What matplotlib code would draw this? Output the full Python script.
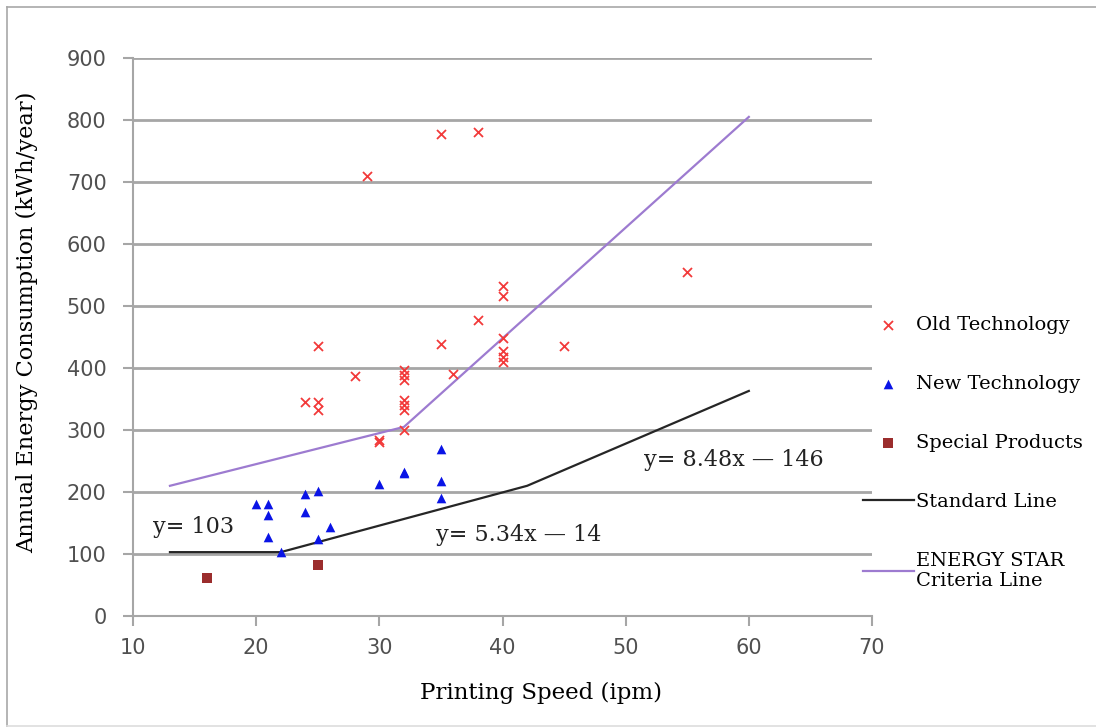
# Printer energy consumption vs printing speed
import matplotlib.pyplot as plt
from matplotlib.lines import Line2D

# DATA
old_x = [24, 25, 25, 25, 28, 29, 30, 30, 32, 32, 32, 32, 32, 32, 32,
         35, 35, 36, 38, 38, 40, 40, 40, 40, 40, 40, 45, 55]
old_y = [345, 435, 345, 333, 387, 709, 284, 280, 397, 389, 380, 348, 340, 332, 300,
         777, 439, 391, 780, 477, 532, 516, 449, 427, 418, 409, 435, 555]

new_x = [20, 21, 21, 21, 22, 24, 24, 25, 25, 26, 30, 32, 32, 35, 35, 35]
new_y = [181, 180, 163, 128, 103, 196, 167, 202, 125, 144, 213, 230, 233, 269, 218, 190]

special_x = [16, 25]
special_y = [62, 83]

standard_x = [13, 22, 42, 60]
standard_y = [103, 103, 210, 363]

star_x = [13, 32, 60]
star_y = [210, 305, 805]

serif = 'DejaVu Serif'

# PLOT
fig = plt.figure(figsize=(10.96, 7.27), dpi=100)
ax = fig.add_axes([133/1096, 1-616/727, 739/1096, 558/727])

ax.plot(star_x, star_y, color='#9d7bd0', lw=1.6, label='ENERGY STAR\nCriteria Line', zorder=3)
ax.plot(standard_x, standard_y, color='#262626', lw=1.6, label='Standard Line', zorder=3)
ax.scatter(old_x, old_y, marker='x', s=42, color='#f23a3a', linewidths=1.3,
           label='Old Technology', zorder=4)
ax.scatter(new_x, new_y, marker='^', s=48, color='#0a14e6', linewidths=0,
           label='New Technology', zorder=4)
ax.scatter(special_x, special_y, marker='s', s=45, color='#9b2d2d', linewidths=0,
           label='Special Products', zorder=4)

# equation labels
ax.text(11.6, 144, 'y= 103', fontsize=16, family=serif, color='#222222', va='center')
ax.text(34.6, 131, 'y= 5.34x \u2014 14', fontsize=16, family=serif, color='#222222', va='center')
ax.text(51.5, 252, 'y= 8.48x \u2014 146', fontsize=16, family=serif, color='#222222', va='center')

ax.set_xlim(10, 70)
ax.set_ylim(0, 900)
ax.set_xticks(range(10, 71, 10))
ax.set_yticks(range(0, 901, 100))
ax.grid(axis='y', color='#a6a6a6', lw=2)
ax.set_axisbelow(True)
for s in ['top', 'right']:
    ax.spines[s].set_visible(False)
for s in ['left', 'bottom']:
    ax.spines[s].set_color('#a6a6a6')
    ax.spines[s].set_linewidth(1.5)
ax.tick_params(colors='#a6a6a6', width=1.5, length=7, labelcolor='#505050', labelsize=15)
ax.tick_params(axis='x', pad=9)
ax.tick_params(axis='y', pad=12)

ax.set_xlabel('Printing Speed (ipm)', family=serif, fontsize=16.5)
ax.xaxis.set_label_coords(0.552, -0.118)
ax.set_ylabel('Annual Energy Consumption (kWh/year)', family=serif, fontsize=16.2)
ax.yaxis.set_label_coords(-0.1285, 0.527)

handles, labels = ax.get_legend_handles_labels()
order = [2, 3, 4, 1, 0]
ax.legend([handles[i] for i in order], [labels[i] for i in order],
          loc='upper left', bbox_to_anchor=(0.988, 0.537), frameon=False,
          prop={'family': serif, 'size': 14}, handlelength=2.6, handletextpad=0.1,
          labelspacing=2.1, borderpad=0, borderaxespad=0)

# picture frame
fig.lines.append(Line2D([7/1096, 7/1096], [0, 1-7/727], transform=fig.transFigure,
                        color='#a8a8a8', lw=1.2))
fig.lines.append(Line2D([7/1096, 1], [1-7/727, 1-7/727], transform=fig.transFigure,
                        color='#a8a8a8', lw=1.2))
fig.lines.append(Line2D([7/1096, 1], [0.001, 0.001], transform=fig.transFigure,
                        color='#dddddd', lw=1.2))

plt.savefig('out.png')
